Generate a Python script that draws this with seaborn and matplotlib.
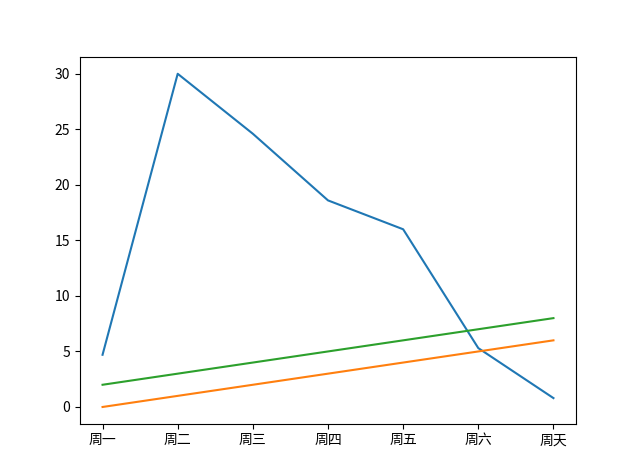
import pandas as pd
import matplotlib
matplotlib.use('Agg')
import matplotlib.pyplot as plt
import seaborn as sns

plt.rcParams['font.family'] = ['Noto Sans CJK SC', 'DejaVu Sans']
plt.rcParams['axes.unicode_minus'] = False

dias = ['周一', '周二', '周三', '周四', '周五', '周六', '周天']
serie_a = [4.7, 30.0, 24.6, 18.6, 16.0, 5.3, 0.8]
serie_b = [0, 1, 2, 3, 4, 5, 6]
serie_c = [2, 3, 4, 5, 6, 7, 8]

df = pd.DataFrame({'dia': dias, 'a': serie_a, 'b': serie_b, 'c': serie_c})

fig, ax = plt.subplots(figsize=(6.4, 4.76), dpi=100)
sns.lineplot(data=df, x='dia', y='a', color='#1f77b4', sort=False, ax=ax)
sns.lineplot(data=df, x='dia', y='b', color='#ff7f0e', sort=False, ax=ax)
sns.lineplot(data=df, x='dia', y='c', color='#2ca02c', sort=False, ax=ax)
ax.set_xlabel('')
ax.set_ylabel('')

plt.savefig('out.png', dpi=100)
plt.close()
